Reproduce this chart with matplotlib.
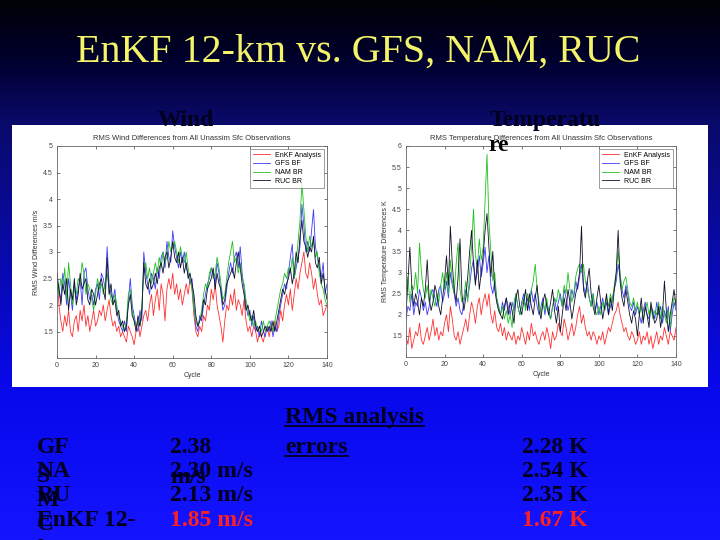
#! /usr/bin/env python3
import numpy as np
import matplotlib
matplotlib.use("Agg")
import matplotlib.pyplot as plt
from matplotlib.colors import LinearSegmentedColormap
from matplotlib.patches import Rectangle
from matplotlib.lines import Line2D

W, H = 720, 540

cycles = np.arange(0, 141)
series_names = ["EnKF Analysis", "GFS BF", "NAM BR", "RUC BR"]
series_colors = ["#ff3030", "#3a3aff", "#20c020", "#101028"]

# RMS wind differences (m/s), one value per cycle
wind_enkf = [
    2.6, 2.0, 1.7, 1.5, 1.8, 1.6, 1.9, 1.5, 1.4, 1.7,
    1.8, 1.5, 1.9, 1.7, 2.0, 1.6, 1.8, 1.5, 1.7, 1.9,
    1.6, 1.7, 1.9, 1.8, 2.0, 1.7, 1.9, 2.1, 1.8, 1.6,
    1.7, 1.5, 1.6, 1.4, 1.5, 1.4, 1.3, 1.6, 1.5, 1.4,
    1.25, 1.5, 1.7, 1.4, 1.6, 1.8, 1.9, 1.7, 2.0, 2.2,
    1.8, 2.1, 2.3, 1.9, 2.4, 2.2, 1.7, 2.3, 2.5, 2.3,
    2.6, 2.2, 2.4, 2.1, 2.3, 2.0, 2.2, 2.4, 2.2, 2.5,
    2.3, 1.8, 1.5, 1.4, 1.6, 1.5, 1.8, 1.7, 2.0, 1.9,
    2.3, 2.1, 2.4, 2.0, 1.8, 1.6, 1.3, 1.7, 2.0, 1.9,
    2.2, 2.0, 2.3, 1.9, 2.1, 2.0, 1.8, 2.1, 1.7, 1.5,
    1.6, 1.4, 1.6, 1.5, 1.3, 1.5, 1.4, 1.3, 1.5, 1.6,
    1.4, 1.6, 1.5, 1.7, 1.5, 1.6, 1.9, 1.7, 2.0, 2.2,
    2.0, 2.3, 1.9, 2.2, 2.5, 2.3, 2.6, 2.8, 3.0, 2.6,
    2.5, 2.8, 2.6, 2.3, 2.5, 2.2, 2.0, 2.1, 1.8, 1.9, 2.0,
]
wind_gfs = [
    2.5, 2.3, 2.1, 2.6, 2.4, 2.0, 2.5, 2.2, 1.9, 2.4,
    2.1, 2.3, 2.5, 2.0, 2.6, 2.7, 2.3, 2.1, 2.2, 2.0,
    2.3, 2.4, 2.1, 2.6, 2.5, 2.3, 3.1, 2.4, 2.2, 2.1,
    2.3, 1.9, 1.7, 1.6, 1.5, 1.7, 1.5, 2.1, 2.5, 2.0,
    1.8, 1.6, 1.5, 1.9, 1.7, 3.0, 2.6, 2.4, 2.2, 2.6,
    2.5, 2.3, 2.7, 2.5, 2.9, 3.0, 2.7, 3.2, 2.9, 2.8,
    3.4, 3.1, 2.9, 2.7, 3.0, 2.8, 3.0, 2.7, 2.6, 2.4,
    2.5, 2.0, 1.6, 1.5, 1.8, 1.7, 2.0, 2.2, 2.4, 2.5,
    2.7, 2.6, 2.4, 2.8, 2.6, 2.2, 1.9, 2.0, 2.3, 2.6,
    2.8, 2.6, 2.9, 3.0, 2.7, 3.1, 2.6, 2.3, 2.0, 1.8,
    1.9, 1.6, 1.8, 1.5, 1.6, 1.4, 1.7, 1.5, 1.4, 1.6,
    1.5, 1.7, 1.4, 1.6, 1.5, 1.8, 2.0, 2.2, 2.4, 2.3,
    2.6, 2.9, 3.15, 2.5, 2.7, 2.9, 3.1, 3.9, 3.5, 3.0,
    3.2, 3.0, 3.4, 3.8, 3.1, 2.9, 2.7, 2.5, 2.8, 2.2, 2.4,
]
wind_nam = [
    2.4, 2.2, 2.5, 2.3, 2.7, 2.1, 2.8, 2.4, 2.0, 2.3,
    2.2, 2.5, 2.4, 2.8, 2.6, 2.2, 2.4, 2.3, 2.1, 1.9,
    2.2, 2.5, 2.3, 2.4, 2.2, 2.4, 2.6, 2.3, 2.1, 2.0,
    2.2, 2.0, 1.8, 1.7, 1.6, 1.5, 1.7, 2.2, 2.3, 1.9,
    1.7, 1.6, 1.7, 1.6, 2.0, 2.6, 2.8, 2.5, 2.7, 2.4,
    2.6, 2.8, 2.6, 2.9, 2.7, 3.0, 2.8, 2.9, 3.2, 3.0,
    3.1, 3.2, 3.0, 2.8, 3.1, 2.9, 2.8, 3.0, 2.7, 2.5,
    2.3, 1.9, 1.7, 1.6, 1.7, 1.9, 2.2, 2.4, 2.3, 2.6,
    2.7, 2.5, 2.6, 2.9, 2.7, 2.4, 2.1, 2.2, 2.5, 2.8,
    3.0, 3.2, 2.8, 2.9, 2.6, 2.8, 2.5, 2.4, 2.1, 1.9,
    1.7, 1.8, 1.6, 1.7, 1.5, 1.6, 1.5, 1.7, 1.5, 1.6,
    1.7, 1.6, 1.5, 1.7, 1.9, 2.1, 2.3, 2.4, 2.6, 2.5,
    2.7, 2.6, 2.9, 2.5, 2.8, 3.2, 3.6, 4.3, 3.8, 3.3,
    3.0, 3.3, 3.1, 3.2, 2.9, 3.0, 2.6, 2.4, 2.3, 2.1, 2.0,
]
wind_ruc = [
    2.6, 2.3, 2.0, 2.4, 2.2, 2.5, 1.9, 2.3, 2.1, 2.5,
    2.0, 2.2, 2.6, 2.3, 2.4, 2.5, 2.1, 2.0, 2.3, 2.2,
    2.0, 2.2, 2.4, 2.5, 2.3, 2.1, 2.9, 2.2, 2.4, 2.0,
    2.1, 1.8, 1.9, 1.6, 1.7, 1.5, 1.6, 2.0, 2.2, 1.8,
    1.7, 1.5, 1.8, 1.6, 1.9, 2.8, 2.4, 2.3, 2.5, 2.3,
    2.4, 2.6, 2.4, 2.7, 2.8, 2.6, 2.9, 3.0, 2.7, 2.9,
    3.2, 2.9, 2.8, 3.0, 2.7, 2.9, 2.6, 2.8, 2.5, 2.6,
    2.4, 2.2, 1.8, 1.6, 1.7, 1.8, 2.1, 2.0, 2.3, 2.4,
    2.5, 2.7, 2.3, 2.6, 2.4, 2.3, 2.0, 2.1, 2.4, 2.5,
    2.6, 2.7, 2.5, 2.8, 3.0, 2.7, 2.4, 2.2, 1.9, 2.0,
    1.8, 1.7, 1.9, 1.6, 1.5, 1.6, 1.4, 1.5, 1.6, 1.5,
    1.6, 1.5, 1.7, 1.5, 1.7, 1.9, 2.1, 2.3, 2.2, 2.4,
    2.5, 2.7, 2.4, 2.6, 3.0, 2.8, 3.3, 3.6, 3.2, 3.1,
    2.9, 3.1, 3.0, 3.3, 2.8, 2.7, 2.9, 2.4, 2.6, 2.3, 2.1,
]

# RMS temperature differences (K), one value per cycle
temp_enkf = [
    1.5, 1.3, 1.7, 1.2, 1.4, 1.6, 1.5, 1.8, 1.4, 1.3,
    1.5, 1.7, 1.4, 1.6, 1.9, 1.5, 1.7, 1.4, 1.6, 1.5,
    1.8, 2.0, 1.6, 2.2, 1.9, 1.5, 1.4, 1.6, 1.3, 1.5,
    1.7, 1.9, 1.6, 2.0, 2.3, 2.1, 1.8, 2.2, 2.4, 2.0,
    2.3, 2.5, 2.2, 2.5, 2.0, 1.8, 2.1, 1.7, 1.6, 1.8,
    1.5, 1.7, 1.4, 1.6, 1.5, 1.4, 1.6, 1.3, 1.5, 1.4,
    1.7, 1.5, 1.3, 1.6, 1.4, 1.8, 1.5, 1.6, 1.4, 1.3,
    1.5, 1.6, 1.4, 1.7, 1.5, 1.2, 1.6, 1.4, 1.5, 1.8,
    1.6, 1.5, 1.9, 1.7, 1.4, 1.6, 1.8, 1.5, 1.7, 2.0,
    2.2, 1.8, 2.0, 1.7, 1.5, 1.6, 1.4, 1.6, 1.5, 1.3,
    1.5, 1.4, 1.6, 1.3, 1.5, 1.7, 1.6, 1.8, 2.0, 2.1,
    2.3, 2.0, 1.8, 1.6, 1.7, 1.5, 1.4, 1.6, 1.5, 1.3,
    1.4, 1.6, 1.3, 1.5, 1.4, 1.6, 1.3, 1.5, 1.2, 1.4,
    1.6, 1.3, 1.5, 1.4, 1.7, 1.5, 1.3, 1.6, 1.5, 1.4, 1.7,
]
temp_gfs = [
    1.9, 2.2, 2.1, 2.5, 2.0, 2.3, 2.2, 2.6, 2.4, 2.1,
    2.3, 2.0, 2.2, 2.5, 2.6, 2.4, 2.2, 2.6, 2.7, 2.3,
    2.5, 2.8, 2.4, 3.0, 2.7, 2.5, 2.2, 2.4, 2.1, 2.0,
    2.3, 2.6, 2.4, 2.7, 3.1, 3.3, 2.8, 3.0, 3.4, 2.9,
    3.2, 3.6, 3.0, 3.4, 2.7, 2.5, 2.8, 2.4, 2.2, 2.0,
    2.3, 2.1, 2.4, 2.2, 2.0, 2.3, 2.1, 2.5, 2.2, 2.0,
    2.3, 2.5, 2.2, 2.4, 2.1, 2.6, 2.3, 2.5, 2.2, 2.0,
    2.2, 2.4, 2.0, 2.3, 2.1, 1.9, 2.2, 2.4, 2.1, 2.3,
    2.5, 2.2, 2.6, 2.4, 2.1, 2.3, 2.6, 2.4, 2.8, 2.6,
    2.9, 3.2, 2.7, 2.5, 2.8, 2.4, 2.2, 2.5, 2.1, 2.3,
    2.0, 2.2, 2.4, 2.1, 2.3, 2.0, 2.2, 2.4, 2.6, 2.8,
    3.2, 2.9, 2.6, 2.4, 2.7, 2.5, 2.2, 2.1, 2.3, 2.0,
    2.2, 2.0, 1.8, 2.1, 2.3, 2.0, 1.9, 2.2, 2.1, 1.9,
    2.3, 2.0, 2.2, 1.8, 2.1, 1.9, 2.2, 1.6, 2.0, 2.3, 2.1,
]
temp_nam = [
    2.5, 2.9, 2.3, 2.7, 2.6, 3.0, 2.5, 3.7, 3.0, 2.6,
    2.4, 2.7, 2.3, 2.6, 2.4, 2.2, 2.5, 2.3, 2.7, 3.0,
    2.6, 3.0, 2.5, 3.3, 2.8, 2.5, 3.2, 3.7, 2.6, 2.3,
    2.4, 2.8, 2.3, 3.0, 3.6, 4.5, 3.4, 3.1, 3.8, 3.3,
    3.6, 4.7, 5.8, 4.2, 3.5, 2.8, 3.0, 2.4, 2.2, 2.0,
    2.2, 1.9, 2.1, 1.8, 2.0, 1.7, 2.3, 2.5, 2.2, 2.0,
    2.2, 2.4, 2.1, 2.5, 2.3, 2.6, 2.8, 3.2, 2.6, 2.3,
    2.0, 2.3, 2.1, 2.4, 2.0, 1.9, 2.2, 2.4, 2.3, 2.6,
    2.4, 2.2, 2.7, 2.5, 3.0, 2.6, 2.3, 2.5, 2.9, 3.1,
    3.2, 3.0, 3.2, 2.8, 2.6, 2.4, 2.2, 2.5, 2.1, 2.0,
    2.2, 2.0, 2.3, 2.1, 2.4, 2.2, 2.5, 2.3, 2.7, 3.0,
    3.5, 3.0, 2.6, 2.8, 2.9, 2.6, 2.3, 2.2, 2.4, 2.1,
    2.3, 2.0, 2.2, 1.9, 2.1, 2.3, 2.0, 2.2, 1.9, 2.1,
    2.0, 2.3, 1.9, 2.2, 2.0, 1.8, 2.1, 1.7, 2.2, 2.4, 2.3,
]
temp_ruc = [
    2.0, 2.8, 3.6, 2.7, 2.2, 2.5, 2.3, 2.0, 2.4, 2.2,
    2.6, 3.3, 2.4, 2.1, 2.3, 2.7, 2.5, 2.2, 2.0, 2.4,
    2.8, 3.4, 2.7, 4.1, 3.2, 2.6, 2.3, 2.9, 3.8, 2.5,
    2.1, 2.4, 2.9, 3.5, 4.0, 3.2, 2.7, 3.3, 2.6, 3.0,
    3.4, 4.0, 4.4, 3.6, 2.9, 3.5, 2.6, 2.3, 2.1, 2.0,
    1.9, 2.2, 2.4, 2.0, 2.3, 2.1, 1.8, 2.4, 2.6, 2.2,
    2.0, 2.3, 2.6, 2.1, 2.5, 2.2, 2.0, 2.4, 2.7, 2.1,
    1.9, 2.3, 2.5, 2.2, 2.0, 2.3, 2.6, 2.1, 1.8, 2.2,
    1.6, 2.0, 2.4, 2.1, 2.6, 2.3, 1.9, 2.2, 2.5, 2.7,
    3.0, 4.1, 2.6, 2.4, 2.8, 3.1, 2.5, 2.2, 2.0, 2.4,
    2.7, 2.3, 1.9, 2.2, 2.5, 2.0, 2.4, 2.1, 2.6, 3.0,
    4.0, 2.8, 2.4, 2.2, 2.6, 2.3, 2.0, 1.8, 2.1, 1.9,
    1.5, 2.0, 2.4, 1.8, 2.2, 2.0, 1.7, 2.3, 2.0, 1.8,
    1.9, 2.2, 1.7, 2.0, 2.8, 2.1, 1.6, 2.0, 2.3, 2.6, 2.2,
]

# summary table under the plots
model_rows = ["GF", "NA", "RU", "EnKF 12-"]
model_wrap = ["S", "M", "C", "km"]
wind_rows = ["2.38", "2.30 m/s", "2.13 m/s", "1.85 m/s"]
temp_rows = ["2.28 K", "2.54 K", "2.35 K", "1.67 K"]


def fx(px):
    return px / W


def fy(py):
    return 1 - py / H


def draw_panel(fig, rect, x, series, title, ylabel, ylim, yticks):
    ax = fig.add_axes(rect)
    ax.set_facecolor("white")
    for vals, name, col in zip(series, series_names, series_colors):
        ax.plot(x, vals, color=col, lw=0.6, label=name)
    ax.set_xlim(0, 140)
    ax.set_ylim(*ylim)
    ax.set_xticks(range(0, 141, 20))
    ax.set_yticks(yticks)
    ax.set_yticklabels(["{:g}".format(t) for t in yticks])
    tf = dict(family="Liberation Sans", color="#333333")
    ax.set_title(title, fontsize=5.5, pad=4, **tf)
    ax.set_xlabel("Cycle", fontsize=5, labelpad=2, **tf)
    ax.set_ylabel(ylabel, fontsize=5, labelpad=2, **tf)
    ax.tick_params(direction="in", length=2.5, width=0.5, labelsize=5,
                   colors="#444444", top=True, right=True, pad=3)
    for lab in ax.get_xticklabels() + ax.get_yticklabels():
        lab.set_family("Liberation Sans")
    for s in ax.spines.values():
        s.set_linewidth(0.6)
        s.set_color("#666666")
    leg = ax.legend(loc="upper right", fancybox=False, frameon=True,
                    handlelength=2.4, labelspacing=0.25, borderpad=0.4,
                    borderaxespad=0.4, prop={"family": "Liberation Sans", "size": 5})
    leg.get_frame().set_edgecolor("#555555")
    leg.get_frame().set_linewidth(0.5)
    return ax


def plot():
    fig = plt.figure(figsize=(W / 100, H / 100), dpi=100)

    # slide background: vertical gradient, black at top to blue at bottom
    bg = fig.add_axes([0, 0, 1, 1])
    cmap = LinearSegmentedColormap.from_list("slide", [
        (0.0, "#000006"), (0.11, "#00002e"), (0.23, "#0a0a6c"),
        (0.72, "#0808ec"), (1.0, "#1414ff")])
    grad = np.linspace(0, 1, 256).reshape(-1, 1)
    bg.imshow(grad, aspect="auto", cmap=cmap, extent=[0, W, H, 0])
    bg.add_patch(Rectangle((12, 125), 696, 262, facecolor="white", edgecolor="none"))
    bg.set_xlim(0, W)
    bg.set_ylim(H, 0)
    bg.axis("off")

    draw_panel(fig, [fx(57), fy(358), 270 / W, 212 / H], cycles,
               [wind_enkf, wind_gfs, wind_nam, wind_ruc],
               "RMS Wind Differences from All Unassim Sfc Observations",
               "RMS Wind Differences m/s", (1, 5), np.arange(1.5, 5.01, 0.5))
    draw_panel(fig, [fx(406), fy(357), 270 / W, 211 / H], cycles,
               [temp_enkf, temp_gfs, temp_nam, temp_ruc],
               "RMS Temperature Differences from All Unassim Sfc Observations",
               "RMS Temperature Differences K", (1, 6), np.arange(1.5, 6.01, 0.5))

    serif = "Liberation Serif"
    dark = "#00001e"
    fig.text(fx(358), fy(62), "EnKF 12-km vs. GFS, NAM, RUC", ha="center",
             va="baseline", family=serif, fontsize=28.8, color="#f4f46a")
    fig.text(fx(186), fy(126), "Wind", ha="center", va="baseline", family=serif,
             fontsize=17, weight="bold", color=dark)
    fig.text(fx(490), fy(126), "Temperatu", ha="left", va="baseline", family=serif,
             fontsize=17, weight="bold", color=dark)
    fig.text(fx(488), fy(151), "re", ha="left", va="baseline", family=serif,
             fontsize=17, weight="bold", color="black")

    bold = dict(family=serif, fontsize=17, weight="bold", va="baseline")
    t_rms = fig.text(fx(285), fy(423), "RMS analysis", color=dark, **bold)
    t_err = fig.text(fx(285), fy(453), "errors", color=dark, **bold)

    baselines = [453, 477, 501, 526]
    for i, yb in enumerate(baselines):
        col = "#ff2020" if i == 3 else dark
        fig.text(fx(37), fy(yb), model_rows[i], color=dark, **bold)
        fig.text(fx(37), fy(yb + 29), model_wrap[i], color=dark, **bold)
        fig.text(fx(170), fy(yb), wind_rows[i], color=col, **bold)
        fig.text(fx(522), fy(yb), temp_rows[i], color=col, **bold)
    fig.text(fx(170), fy(483), "m/s", color=dark, **bold)

    # underline the header words
    fig.canvas.draw()
    r = fig.canvas.get_renderer()
    for t, yu in [(t_rms, 426), (t_err, 456)]:
        bb = t.get_window_extent(r).transformed(fig.transFigure.inverted())
        fig.add_artist(Line2D([bb.x0, bb.x1], [fy(yu), fy(yu)],
                              transform=fig.transFigure, color=dark, lw=1.3))

    fig.savefig("out.png", dpi=100)


def main():
    plot()


if __name__ == "__main__":
    main()
